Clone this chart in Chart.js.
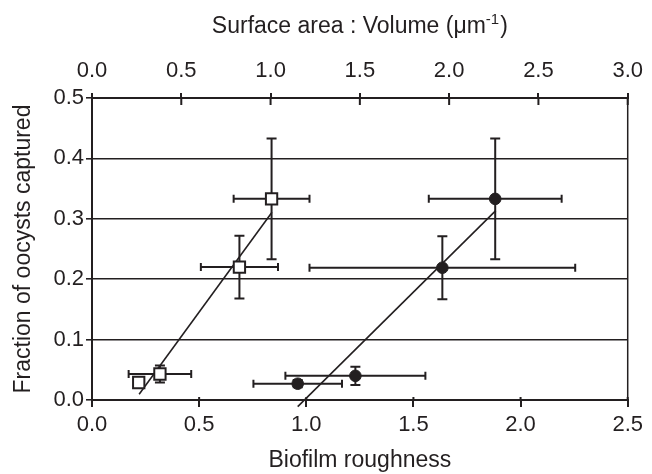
<!DOCTYPE html>
<html><head><meta charset="utf-8">
<script src="https://cdn.jsdelivr.net/npm/chart.js@4.4.1/dist/chart.umd.min.js"></script>
<style>html,body{margin:0;padding:0;background:#fff}#wrap{width:652px;height:474px}</style>
</head><body><div id="wrap"><canvas id="c" width="652" height="474"></canvas></div>
<script>
const INK = '#231f20';
const FONT = "'Liberation Sans', Arial, Helvetica, sans-serif";

// Tick labels
const xBottomTicks = [0, 0.5, 1.0, 1.5, 2.0, 2.5];
const xTopTicks = [0, 0.5, 1.0, 1.5, 2.0, 2.5, 3.0];
const yTicks = [0, 0.1, 0.2, 0.3, 0.4, 0.5];

// Axis titles
const xBottomTitle = 'Biofilm roughness';
const xTopTitleMain = 'Surface area : Volume (\u03bcm';
const xTopTitleSup = '-1';
const xTopTitleEnd = ')';
const yTitle = 'Fraction of oocysts captured';

// Open squares (biofilm roughness, bottom axis)
const sqX = [0.218, 0.317, 0.688, 0.838];
const sqY = [0.029, 0.043, 0.220, 0.333];
const sqXErr = [0, 0.146, 0.180, 0.177];
const sqYErr = [0.004, 0.014, 0.052, 0.100];

// Filled circles (surface area : volume, top axis)
const ciX = [1.152, 1.475, 1.962, 2.258];
const ciY = [0.027, 0.040, 0.219, 0.333];
const ciXErr = [0.248, 0.392, 0.744, 0.372];
const ciYErr = [0.006, 0.015, 0.052, 0.100];

// Regression lines (end points, in each series' axis units)
const sqFitX = [0.220, 0.840];
const sqFitY = [0.0095, 0.311];
const ciFitX = [1.152, 2.261];
const ciFitY = [-0.011, 0.3136];

const pts = (xs, ys) => xs.map((x, i) => ({ x: x, y: ys[i] }));

const errorBars = {
  id: 'errorBars',
  beforeDatasetsDraw(chart) {
    const ctx = chart.ctx;
    const ys = chart.scales.y;
    chart.data.datasets.forEach((ds) => {
      if (!ds.errX) return;
      const xs = chart.scales[ds.xAxisID];
      ctx.save();
      ctx.strokeStyle = INK;
      ctx.lineWidth = 2;
      ds.data.forEach((p, i) => {
        const px = xs.getPixelForValue(p.x);
        const py = ys.getPixelForValue(p.y);
        const ex = ds.errX[i], ey = ds.errY[i];
        ctx.beginPath();
        if (ex > 0) {
          const x1 = xs.getPixelForValue(p.x - ex), x2 = xs.getPixelForValue(p.x + ex);
          ctx.moveTo(x1, py); ctx.lineTo(x2, py);
          ctx.moveTo(x1, py - 4); ctx.lineTo(x1, py + 4);
          ctx.moveTo(x2, py - 4); ctx.lineTo(x2, py + 4);
        }
        if (ey > 0) {
          const y1 = ys.getPixelForValue(p.y - ey), y2 = ys.getPixelForValue(p.y + ey);
          ctx.moveTo(px, y1); ctx.lineTo(px, y2);
          ctx.moveTo(px - 5, y1); ctx.lineTo(px + 5, y1);
          ctx.moveTo(px - 5, y2); ctx.lineTo(px + 5, y2);
        }
        ctx.stroke();
      });
      ctx.restore();
    });
  }
};

const frame = {
  id: 'frame',
  afterDraw(chart) {
    const ctx = chart.ctx;
    const a = chart.chartArea;
    ctx.save();
    ctx.strokeStyle = INK;
    // right border
    ctx.lineWidth = 1.5;
    ctx.beginPath();
    ctx.moveTo(a.right, a.top); ctx.lineTo(a.right, a.bottom);
    ctx.stroke();
    // inward parts of the x tick marks
    ctx.lineWidth = 2;
    ctx.beginPath();
    chart.scales.x.ticks.forEach(t => {
      const px = chart.scales.x.getPixelForValue(t.value);
      ctx.moveTo(px, a.bottom); ctx.lineTo(px, a.bottom - 3);
    });
    chart.scales.x2.ticks.forEach(t => {
      const px = chart.scales.x2.getPixelForValue(t.value);
      ctx.moveTo(px, a.top); ctx.lineTo(px, a.top + 7);
    });
    ctx.stroke();
    // top axis title with superscript
    const big = '23px ' + FONT, small = '15px ' + FONT;
    ctx.fillStyle = INK;
    ctx.textBaseline = 'alphabetic';
    ctx.textAlign = 'left';
    ctx.font = big; const w1 = ctx.measureText(xTopTitleMain).width; const w3 = ctx.measureText(xTopTitleEnd).width;
    ctx.font = small; const w2 = ctx.measureText(xTopTitleSup).width;
    const cx = (a.left + a.right) / 2;
    let x = cx - (w1 + w2 + w3 + 1) / 2;
    const base = 33;
    ctx.font = big; ctx.fillText(xTopTitleMain, x, base); x += w1;
    ctx.font = small; ctx.fillText(xTopTitleSup, x, base - 9); x += w2 + 1;
    ctx.font = big; ctx.fillText(xTopTitleEnd, x, base);
    ctx.restore();
  }
};

const tickFont = { family: FONT, size: 22 };
const titleFont = { family: FONT, size: 23, lineHeight: 1.2 };

new Chart(document.getElementById('c'), {
  type: 'scatter',
  data: {
    datasets: [
      { label: 'Squares', data: pts(sqX, sqY), xAxisID: 'x', yAxisID: 'y',
        pointStyle: 'rect', pointRadius: 8, pointHoverRadius: 8,
        backgroundColor: '#ffffff', borderColor: INK, borderWidth: 2,
        errX: sqXErr, errY: sqYErr },
      { label: 'Circles', data: pts(ciX, ciY), xAxisID: 'x2', yAxisID: 'y',
        pointStyle: 'circle', pointRadius: 5.8, pointHoverRadius: 5.8,
        backgroundColor: INK, borderColor: INK, borderWidth: 1,
        errX: ciXErr, errY: ciYErr },
      { label: 'Square fit', type: 'line', data: pts(sqFitX, sqFitY), xAxisID: 'x', yAxisID: 'y',
        borderColor: INK, borderWidth: 1.6, pointRadius: 0, fill: false, clip: false, tension: 0 },
      { label: 'Circle fit', type: 'line', data: pts(ciFitX, ciFitY), xAxisID: 'x2', yAxisID: 'y',
        borderColor: INK, borderWidth: 1.6, pointRadius: 0, fill: false, clip: false, tension: 0 }
    ]
  },
  options: {
    responsive: false,
    animation: false,
    devicePixelRatio: 1,
    layout: { padding: { left: 0, right: 22, top: 0, bottom: 0 } },
    plugins: { legend: { display: false }, tooltip: { enabled: false }, title: { display: false } },
    scales: {
      x: {
        type: 'linear', position: 'bottom', min: 0, max: 2.5,
        afterBuildTicks: s => { s.ticks = xBottomTicks.map(v => ({ value: v })); },
        afterFit: s => { s.height = 74; },
        ticks: { font: tickFont, color: INK, padding: 5, maxRotation: 0, autoSkip: false,
                 callback: v => Number(v).toFixed(1) },
        grid: { display: true, drawOnChartArea: false, drawTicks: true, tickLength: 7, color: INK, lineWidth: 2 },
        border: { display: true, color: INK, width: 2 },
        title: { display: true, text: xBottomTitle, font: titleFont, color: INK, padding: { top: 0, bottom: 0 } }
      },
      x2: {
        type: 'linear', position: 'top', min: 0, max: 3,
        afterBuildTicks: s => { s.ticks = xTopTicks.map(v => ({ value: v })); },
        afterFit: s => { s.height = 98; },
        ticks: { font: tickFont, color: INK, padding: 9, maxRotation: 0, autoSkip: false,
                 callback: v => Number(v).toFixed(1) },
        grid: { display: true, drawOnChartArea: false, drawTicks: true, tickLength: 5, color: INK, lineWidth: 2 },
        border: { display: true, color: INK, width: 2 },
        title: { display: false }
      },
      y: {
        type: 'linear', position: 'left', min: 0, max: 0.5,
        afterBuildTicks: s => { s.ticks = yTicks.map(v => ({ value: v })); },
        afterFit: s => { s.width = 92; },
        ticks: { font: tickFont, color: INK, padding: 2, callback: v => Number(v).toFixed(1) },
        grid: { display: true, drawOnChartArea: true, drawTicks: true, tickLength: 6, color: INK, lineWidth: 1.6 },
        border: { display: true, color: INK, width: 2 },
        title: { display: true, text: yTitle, font: titleFont, color: INK, padding: { top: 10, bottom: 0 } }
      }
    }
  },
  plugins: [errorBars, frame]
});
</script>
</body></html>
